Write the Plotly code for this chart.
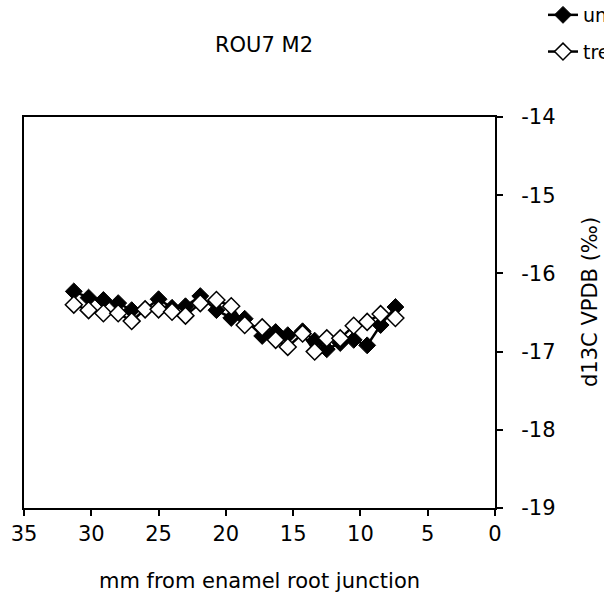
import plotly.graph_objects as go

x_mm = [31.3, 30.2, 29.1, 28.0, 27.0, 26.0, 25.0, 24.0, 23.0, 21.9, 20.7, 19.6,
        18.6, 17.3, 16.3, 15.4, 14.3, 13.4, 12.5, 11.5, 10.5, 9.5, 8.5, 7.4]
untreated = [-16.23, -16.31, -16.34, -16.38, -16.47, -16.46, -16.33, -16.44, -16.42, -16.29,
             -16.47, -16.57, -16.58, -16.80, -16.75, -16.79, -16.74, -16.86, -16.97, -16.89,
             -16.85, -16.92, -16.66, -16.43]
treated = [-16.40, -16.47, -16.51, -16.51, -16.61, -16.46, -16.46, -16.49, -16.54, -16.38,
           -16.34, -16.42, -16.66, -16.69, -16.85, -16.94, -16.77, -17.00, -16.83, -16.83,
           -16.67, -16.62, -16.52, -16.57]
x_ticks = [35, 30, 25, 20, 15, 10, 5, 0]
y_ticks = [-14, -15, -16, -17, -18, -19]

FONT = "DejaVu Sans"
FS = 21

fig = go.Figure()
fig.add_trace(go.Scatter(
    x=x_mm, y=untreated, mode="lines+markers", name="untreated", legendgroup="a",
    line=dict(color="black", width=2.5),
    marker=dict(symbol="diamond", size=13, color="black", line=dict(color="black", width=1)),
))
fig.add_trace(go.Scatter(
    x=x_mm, y=treated, mode="lines+markers", name="treated", legendgroup="b",
    line=dict(color="black", width=2.5),
    marker=dict(symbol="diamond", size=13, color="white", line=dict(color="black", width=1.5)),
))

fig.update_layout(
    width=604, height=598,
    margin=dict(l=24, r=109, t=117, b=90, autoexpand=False),
    paper_bgcolor="white", plot_bgcolor="white",
    font=dict(family=FONT, size=FS, color="black"),
    showlegend=True,
    legend=dict(x=(543 - 24) / 471, y=(508 + 4) / 391, xref="paper", yref="paper",
                xanchor="left", yanchor="top",
                font=dict(size=19), tracegroupgap=9, bgcolor="rgba(0,0,0,0)",
                itemclick=False),
    title=dict(text="ROU7 M2", x=264 / 604, xanchor="center", y=1 - 45 / 598, yanchor="middle",
               font=dict(size=FS)),
    annotations=[dict(text="d13C VPDB (‰)", textangle=-90, showarrow=False,
                      xref="paper", yref="paper", x=(590 - 24) / 471, y=(508 - 302) / 391,
                      xanchor="center", yanchor="middle", font=dict(size=FS))],
)

fig.update_xaxes(
    range=[35, 0], tickvals=x_ticks, ticktext=[str(v) for v in x_ticks],
    ticks="outside", ticklen=6, tickwidth=2, tickcolor="black",
    showline=True, linewidth=2, linecolor="black", mirror=True,
    showgrid=False, zeroline=False,
    title=dict(text="mm from enamel root junction", standoff=28, font=dict(size=FS)),
)
fig.update_yaxes(
    range=[-19, -14], tickvals=y_ticks, ticktext=[str(v) for v in y_ticks],
    side="right", ticks="outside", ticklen=6, tickwidth=2, tickcolor="black",
    ticklabelstandoff=14,
    showline=True, linewidth=2, linecolor="black", mirror=True,
    showgrid=False, zeroline=False,
)

fig.write_html("out.html")
